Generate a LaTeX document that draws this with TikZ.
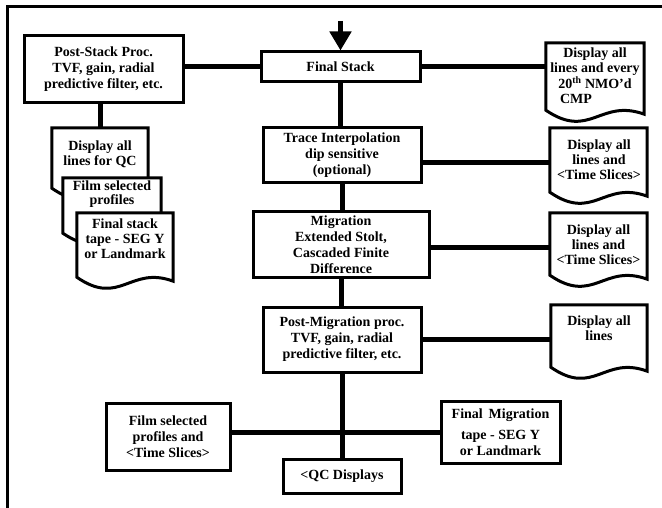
\documentclass[tikz,border=0pt]{standalone}
\usepackage{fontspec}
\setmainfont{Liberation Serif}
\usetikzlibrary{arrows.meta,backgrounds}

\newcommand\procfont{\bfseries\fontsize{14}{16}\selectfont}
\newcommand\docfont{\bfseries\fontsize{14}{15}\selectfont}

\tikzset{
  boxline/.style={line width=3pt, line join=miter},
  proc/.style={draw, boxline, fill=white, inner sep=0pt, align=center, font=\procfont},
  docframe/.style={inner sep=0pt, draw=none},
  doctext/.style={inner sep=0pt, align=center, font=\docfont},
  link/.style={line width=5pt},
}

% printed-output symbol drawn round an empty frame node
\newcommand\DocOutline[1]{%
  \draw[boxline, fill=white] (#1.south west) -- (#1.north west) -- (#1.north east)
    -- ([yshift=-4pt]#1.south east)
    .. controls ([xshift=5pt,yshift=12pt]#1.south) and ([xshift=-5pt,yshift=-30pt]#1.south)
    .. (#1.south west) -- cycle;}

\begin{document}
\begin{tikzpicture}[x=1pt,y=-1pt]
\useasboundingbox (0,0) rectangle (662,508);

% open frame
\draw[line width=3pt] (662,7) -- (7,7) -- (7,508);

% processing steps
\node[proc, minimum width=159pt, minimum height=30pt] (fs) at (340.5,67) {Final Stack};
\node[proc, minimum width=159pt, minimum height=67pt] (ps) at (103.5,69.5)
  {Post-Stack Proc.\\TVF, gain, radial\\predictive filter, etc.};
\node[proc, minimum width=158pt, minimum height=55pt] (ti) at (342,155.5)
  {Trace Interpolation\\dip sensitive\\(optional)};
\node[proc, minimum width=176pt, minimum height=65pt] (mig) at (341,244.5)
  {Migration\\Extended Stolt,\\Cascaded Finite\\Difference};
\node[proc, minimum width=158pt, minimum height=65pt] (pm) at (342,339.5)
  {Post-Migration proc.\\TVF, gain, radial\\predictive filter, etc.};
\node[proc, minimum width=118pt, minimum height=34pt] (qc) at (342,476) {<QC Displays};
\node[proc, minimum width=124pt, minimum height=67pt] (film) at (168,436.5)
  {Film selected\\profiles and\\<Time Slices>};
\node[proc, minimum width=119pt, minimum height=62pt] (fmig) at (500.5,432)
  {Final\,\ Migration\\[5pt]tape - SEG Y\\or Landmark};

% printed outputs: frames
\node[docframe, minimum width=98pt, minimum height=67pt] (r1) at (595,76.5) {};
\node[docframe, minimum width=97pt, minimum height=64pt] (r2) at (598.5,160) {};
\node[docframe, minimum width=97pt, minimum height=62pt] (r3) at (598.5,244) {};
\node[docframe, minimum width=96pt, minimum height=62pt] (r4) at (599,336) {};
\node[docframe, minimum width=96pt, minimum height=60pt] (l1) at (100,158) {};
\node[docframe, minimum width=98pt, minimum height=55pt] (l2) at (112,205.5) {};
\node[docframe, minimum width=96pt, minimum height=64pt] (l3) at (125,245) {};

\begin{scope}[on background layer]
  \DocOutline{r1}\DocOutline{r2}\DocOutline{r3}\DocOutline{r4}
  \DocOutline{l1}\DocOutline{l2}\DocOutline{l3}
\end{scope}

% printed outputs: texts
\node[doctext] (r1t) at (595,76)
  {Display all\\lines and every\\20\textsuperscript{th} NMO’d\\CMP\hspace*{38pt}};
\node[doctext] (r2t) at (599,159.5) {Display all\\lines and\\<Time Slices>};
\node[doctext] (r3t) at (598.5,244.5) {Display all\\lines and\\<Time Slices>};
\node[doctext] (r4t) at (599,328.5) {Display all\\lines};
\node[doctext] (l1t) at (100,154) {Display all\\lines for QC};
\node[doctext, font=\bfseries\fontsize{14}{13.5}\selectfont] (l2t) at (112,194)
  {Film selected\\profiles};
\node[doctext] (l3t) at (125,239) {Final stack\\tape - SEG Y\\or Landmark};

% input arrow
\coordinate (feed) at (340.5,21);
\draw[link, -{Triangle[length=19pt,width=21pt]}] (feed) -- (fs.north);

% connectors
\draw[link] (fs.west) -- (fs.west -| ps.east);
\draw[link] (fs.east) -- (fs.east -| r1.west);
\draw[link] (fs.south) -- (fs.south |- ti.north);
\draw[link] (ti.south) -- (ti.south |- mig.north);
\draw[link] (mig.south) -- (mig.south |- pm.north);
\draw[link] (pm.south) -- (pm.south |- qc.north);
\draw[link] ([yshift=-7pt]ti.east) -- ([yshift=-7pt]ti.east -| r2.west);
\draw[link] ([yshift=-3.5pt]mig.east) -- ([yshift=-3.5pt]mig.east -| r3.west);
\draw[link] (pm.east) -- (pm.east -| r4.west);
\draw[link] (l1.north) -- (l1.north |- ps.south);
\draw[link] (fmig.west) -- (fmig.west -| film.east);
\end{tikzpicture}
\end{document}
